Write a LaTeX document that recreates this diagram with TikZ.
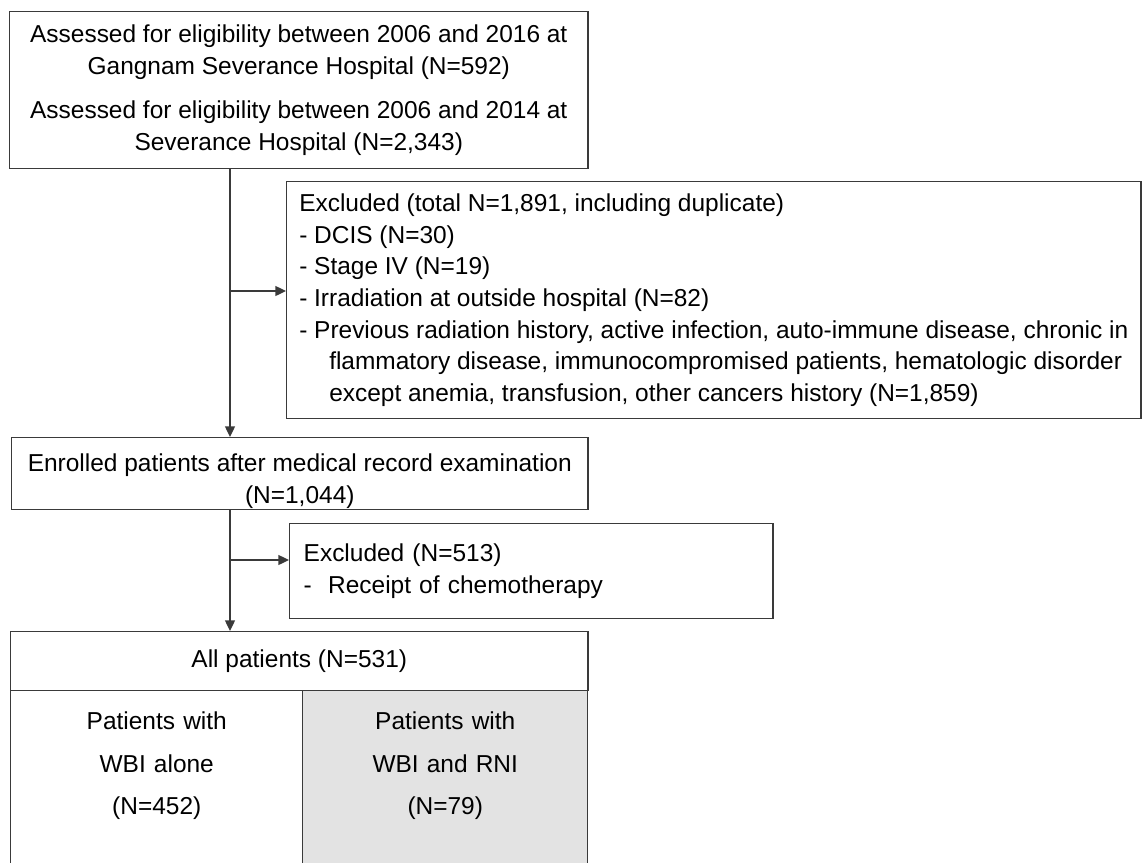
\documentclass[tikz,border=0pt]{standalone}
\usepackage{fontspec}
\setmainfont{Liberation Sans}
\usetikzlibrary{arrows.meta}
\definecolor{boxline}{HTML}{3A3A3A}
\definecolor{cellgray}{HTML}{E3E3E3}
\begin{document}
\begin{tikzpicture}[x=0.025cm,y=-0.025cm,font=\fontsize{17.4}{22.5}\selectfont,
  box/.style={draw=boxline,line width=1pt,anchor=north west,inner sep=0pt},
  cell/.style={box,align=center,inner ysep=15.3pt,font=\fontsize{17.4}{30}\selectfont},
  arrow/.style={draw=boxline,line width=1pt,-{Triangle[length=7.5pt,width=7pt]}}]
\useasboundingbox (0,0) rectangle (1144,862);
\clip (0,0) rectangle (1144,862);
\node[box,minimum width=14.45cm,minimum height=3.925cm,align=center] (assessed) at (9,11)
  {Assessed for eligibility between 2006 and 2016 at\\Gangnam Severance Hospital (N=592)\\[9pt]
   Assessed for eligibility between 2006 and 2014 at\\Severance Hospital (N=2,343)};
\node[box,minimum width=21.35cm,minimum height=5.925cm,align=left] (excl) at (286,181)
  {Excluded (total N=1,891, including duplicate)\\- DCIS (N=30)\\- Stage IV (N=19)\\
   - Irradiation at outside hospital (N=82)\\
   - Previous radiation history, active infection, auto-immune disease, chronic in\\
   \hspace*{0.75cm}flammatory disease, immunocompromised patients, hematologic disorder\\
   \hspace*{0.75cm}except anemia, transfusion, other cancers history (N=1,859)};
\node[box,minimum width=14.4cm,minimum height=1.8cm,align=center] (enrol) at (11,437)
  {\rule{0pt}{23pt}Enrolled patients after medical record examination\\(N=1,044)};
\node[box,minimum width=12.075cm,minimum height=2.375cm,text width=11.375cm,align=left] (excl2) at (289,523)
  {Excluded (N=513)\\-~~Receipt of chemotherapy};
\node[box,minimum width=14.425cm,minimum height=1.475cm] (allpt) at (10,631) {All patients (N=531)};
\node[cell,text width=7.3cm] (wbi) at (10,690)
  {Patients with\\WBI alone\\(N=452)\rule[-4cm]{0pt}{4cm}};
\node[cell,text width=7.125cm,fill=cellgray] (rni) at (302,690)
  {Patients with\\WBI and RNI\\(N=79)\rule[-4cm]{0pt}{4cm}};
\coordinate (trunk) at (230,0);
\coordinate (fork1) at (0,291);
\coordinate (fork2) at (0,560);
\draw[arrow] (assessed.south -| trunk) -- (enrol.north -| trunk);
\draw[arrow] (trunk |- fork1) -- (excl.west |- fork1);
\draw[arrow] (enrol.south -| trunk) -- (allpt.north -| trunk);
\draw[arrow] (trunk |- fork2) -- (excl2.west |- fork2);
\end{tikzpicture}
\end{document}
